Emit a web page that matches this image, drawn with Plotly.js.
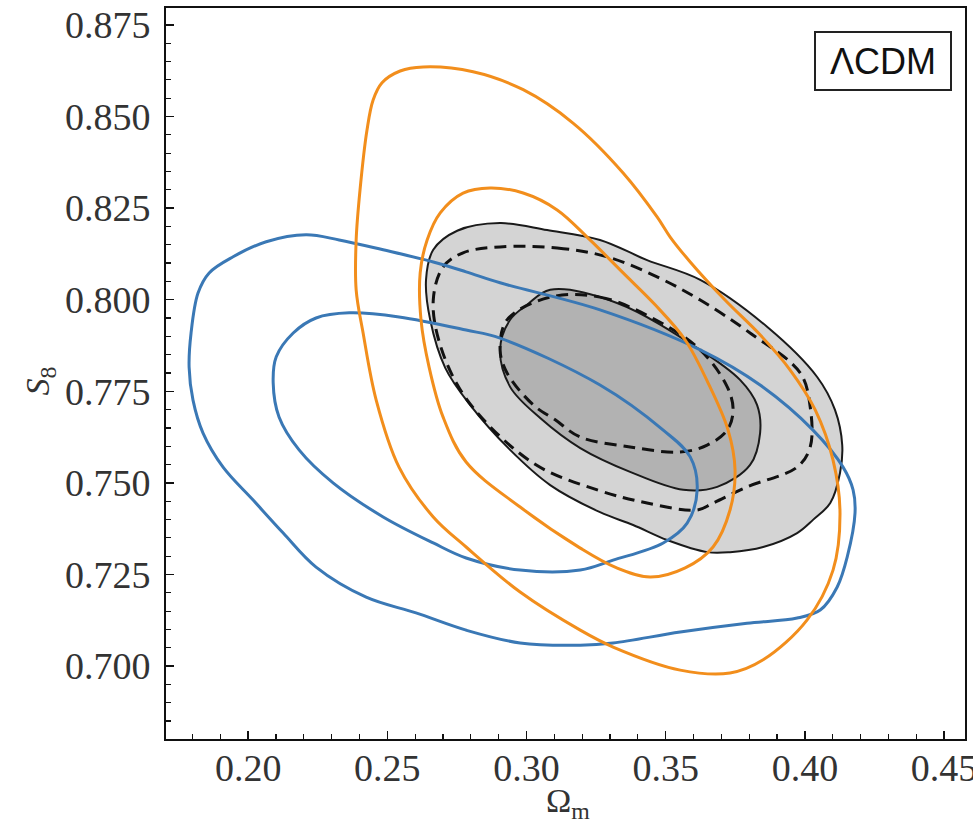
<!DOCTYPE html>
<html>
<head>
<meta charset="utf-8">
<script src="https://cdn.plot.ly/plotly-3.0.1.min.js"></script>
<style>html,body{margin:0;padding:0;background:#fff;}#chart{width:973px;height:830px;}</style>
</head>
<body>
<div id="chart"></div>
<script>
// Axis tick values
const xTickVals = [0.20, 0.25, 0.30, 0.35, 0.40, 0.45];
const yTickVals = [0.700, 0.725, 0.750, 0.775, 0.800, 0.825, 0.850, 0.875];
const panelLabel = "ΛCDM";
const xTitle = "Ω<sub>m</sub>";
const yTitle = "<i>S</i><sub>8</sub>";

// Blue contours (Omega_m, S8)
const blueOuterOm = [0.2208,0.2065,0.1946,0.1860,0.1820,0.1795,0.1788,0.1802,0.1838,0.1910,0.2018,0.2126,0.2244,0.2424,0.2603,0.2783,0.2977,0.3193,0.3311,0.3552,0.3792,0.3972,0.4055,0.4116,0.4152,0.4180,0.4173,0.4137,0.4029,0.3839,0.3624,0.3264,0.2905,0.2783,0.2665,0.2485,0.2327,0.2208];
const blueOuterS8 = [0.8177,0.8158,0.8117,0.8073,0.8018,0.7909,0.7816,0.7726,0.7636,0.7543,0.7453,0.7363,0.7270,0.7188,0.7145,0.7098,0.7063,0.7057,0.7063,0.7093,0.7117,0.7131,0.7153,0.7216,0.7298,0.7418,0.7481,0.7543,0.7644,0.7767,0.7863,0.7972,0.8046,0.8076,0.8103,0.8136,0.8163,0.8177];
const blueInnerOm = [0.2363,0.2244,0.2162,0.2101,0.2090,0.2111,0.2183,0.2305,0.2485,0.2665,0.2783,0.2977,0.3193,0.3311,0.3491,0.3577,0.3613,0.3588,0.3491,0.3264,0.2905,0.2783,0.2542,0.2363];
const blueInnerS8 = [0.7964,0.7950,0.7909,0.7844,0.7773,0.7680,0.7590,0.7500,0.7407,0.7336,0.7295,0.7262,0.7262,0.7289,0.7336,0.7390,0.7481,0.7571,0.7644,0.7767,0.7895,0.7917,0.7953,0.7964];

// Orange contours
const orangeOuterOm = [0.2629,0.2546,0.2481,0.2449,0.2427,0.2402,0.2388,0.2388,0.2413,0.2460,0.2542,0.2665,0.2783,0.2977,0.3193,0.3311,0.3552,0.3731,0.3850,0.4008,0.4101,0.4126,0.4101,0.4037,0.3947,0.3839,0.3713,0.3588,0.3516,0.3469,0.3347,0.3167,0.2988,0.2808,0.2629];
const orangeOuterS8 = [0.8635,0.8624,0.8592,0.8545,0.8463,0.8300,0.8163,0.8027,0.7909,0.7726,0.7543,0.7407,0.7325,0.7202,0.7098,0.7052,0.6989,0.6981,0.7017,0.7126,0.7262,0.7418,0.7562,0.7699,0.7808,0.7904,0.7999,0.8103,0.8171,0.8226,0.8346,0.8482,0.8573,0.8622,0.8635];
const orangeInnerOm = [0.2869,0.2988,0.3110,0.3228,0.3347,0.3462,0.3570,0.3652,0.3724,0.3749,0.3731,0.3670,0.3570,0.3444,0.3318,0.3193,0.2977,0.2783,0.2700,0.2650,0.2621,0.2618,0.2643,0.2690,0.2772,0.2869];
const orangeInnerS8 = [0.8305,0.8291,0.8245,0.8163,0.8073,0.7986,0.7890,0.7773,0.7644,0.7535,0.7426,0.7325,0.7268,0.7243,0.7270,0.7322,0.7434,0.7557,0.7680,0.7816,0.7945,0.8073,0.8163,0.8237,0.8291,0.8305];

// Grey filled contours (black solid edges)
const greyOuterOm = [0.2905,0.3074,0.3264,0.3433,0.3624,0.3864,0.4044,0.4108,0.4134,0.4126,0.4091,0.4029,0.3972,0.3850,0.3731,0.3649,0.3505,0.3383,0.3264,0.3085,0.2941,0.2797,0.2708,0.2654,0.2639,0.2665,0.2751,0.2905];
const greyOuterS8 = [0.8209,0.8190,0.8163,0.8108,0.8054,0.7926,0.7789,0.7699,0.7603,0.7527,0.7445,0.7399,0.7363,0.7325,0.7311,0.7311,0.7344,0.7385,0.7420,0.7494,0.7590,0.7713,0.7814,0.7945,0.8054,0.8136,0.8188,0.8209];
const greyInnerOm = [0.3085,0.3325,0.3624,0.3767,0.3828,0.3839,0.3803,0.3685,0.3563,0.3372,0.3193,0.3049,0.2941,0.2905,0.2941,0.3002,0.3085];
const greyInnerS8 = [0.8027,0.7991,0.7863,0.7781,0.7713,0.7636,0.7549,0.7489,0.7481,0.7530,0.7595,0.7677,0.7762,0.7863,0.7945,0.7986,0.8027];

// Dashed black contours
const dashOuterOm = [0.2905,0.3110,0.3290,0.3469,0.3624,0.3803,0.3983,0.4019,0.4019,0.3972,0.3792,0.3670,0.3613,0.3433,0.3254,0.3024,0.2787,0.2690,0.2665,0.2700,0.2772,0.2905];
const dashOuterS8 = [0.8144,0.8141,0.8117,0.8062,0.7999,0.7909,0.7800,0.7707,0.7598,0.7543,0.7489,0.7445,0.7426,0.7445,0.7481,0.7554,0.7726,0.7876,0.7999,0.8089,0.8128,0.8144];
const dashInnerOm = [0.3085,0.3264,0.3444,0.3624,0.3721,0.3742,0.3721,0.3649,0.3552,0.3372,0.3193,0.3103,0.3024,0.2930,0.2905,0.2930,0.3085];
const dashInnerS8 = [0.8007,0.8007,0.7953,0.7863,0.7762,0.7699,0.7644,0.7603,0.7584,0.7598,0.7625,0.7672,0.7713,0.7800,0.7863,0.7945,0.8007];

const BLUE = '#3a78b5';
const ORANGE = '#f28e1c';

function fillTrace(x, y, fillcolor) {
  return {x, y, type: 'scatter', mode: 'lines', fill: 'toself', fillcolor,
    line: {color: 'rgba(0,0,0,0)', width: 0, shape: 'spline', smoothing: 1}, hoverinfo: 'skip'};
}
function lineTrace(x, y, color, width, dash) {
  return {x, y, type: 'scatter', mode: 'lines',
    line: {color, width, dash: dash || 'solid', shape: 'spline', smoothing: 1}, hoverinfo: 'skip'};
}

const traces = [
  fillTrace(greyOuterOm, greyOuterS8, '#d4d4d4'),
  fillTrace(greyInnerOm, greyInnerS8, '#b2b2b2'),
  lineTrace(greyOuterOm, greyOuterS8, '#1a1a1a', 2),
  lineTrace(greyInnerOm, greyInnerS8, '#1a1a1a', 2),
  lineTrace(dashOuterOm, dashOuterS8, '#111111', 3, '12px,7px'),
  lineTrace(dashInnerOm, dashInnerS8, '#111111', 3, '12px,7px'),
  lineTrace(blueOuterOm, blueOuterS8, BLUE, 3),
  lineTrace(blueInnerOm, blueInnerS8, BLUE, 3),
  lineTrace(orangeOuterOm, orangeOuterS8, ORANGE, 3),
  lineTrace(orangeInnerOm, orangeInnerS8, ORANGE, 3)
];

const serif = 'Liberation Serif, DejaVu Serif, serif';
const tickFont = {family: serif, size: 38, color: '#333'};

const layout = {
  width: 973, height: 830,
  margin: {l: 166, r: 8, t: 8, b: 91, pad: 0},
  paper_bgcolor: '#fff', plot_bgcolor: '#fff',
  showlegend: false, hovermode: false,
  xaxis: {
    range: [0.1705, 0.4575],
    tickvals: xTickVals, ticktext: xTickVals.map(v => v.toFixed(2)),
    ticks: 'inside', ticklen: 8, tickwidth: 1.5, tickcolor: '#111',
    minor: {dtick: 0.01, tick0: 0, ticks: 'inside', ticklen: 5, tickwidth: 1.2, tickcolor: '#111', showgrid: false},
    showgrid: false, zeroline: false,
    showline: true, linecolor: '#111', linewidth: 2, mirror: true,
    tickfont: tickFont, ticklabelstandoff: -6, ticklabeloverflow: 'allow'
  },
  yaxis: {
    range: [0.6801, 0.8796],
    tickvals: yTickVals, ticktext: yTickVals.map(v => v.toFixed(3)),
    ticks: 'inside', ticklen: 8, tickwidth: 1.5, tickcolor: '#111',
    minor: {dtick: 0.005, tick0: 0, ticks: 'inside', ticklen: 5, tickwidth: 1.2, tickcolor: '#111', showgrid: false},
    showgrid: false, zeroline: false,
    showline: true, linecolor: '#111', linewidth: 2, mirror: true,
    tickfont: tickFont, ticklabelstandoff: 6
  },
  annotations: [{
    text: panelLabel, xref: 'paper', yref: 'paper', x: 0.897, y: 0.9275,
    xanchor: 'center', yanchor: 'middle', showarrow: false,
    font: {family: 'Liberation Sans, Arial, sans-serif', size: 36, color: '#111'},
    bgcolor: '#fff', bordercolor: '#222', borderwidth: 2, borderpad: 7, width: 120, height: 42
  }, {
    text: xTitle, xref: 'paper', yref: 'paper', x: 0.503, y: -0.088,
    xanchor: 'center', yanchor: 'middle', showarrow: false,
    font: {family: serif, size: 34, color: '#333'}
  }, {
    text: yTitle, xref: 'paper', yref: 'paper', x: -0.158, y: 0.49,
    xanchor: 'center', yanchor: 'middle', showarrow: false, textangle: -90,
    font: {family: serif, size: 34, color: '#333'}
  }]
};

Plotly.newPlot('chart', traces, layout, {displayModeBar: false, staticPlot: true});
</script>
</body>
</html>
